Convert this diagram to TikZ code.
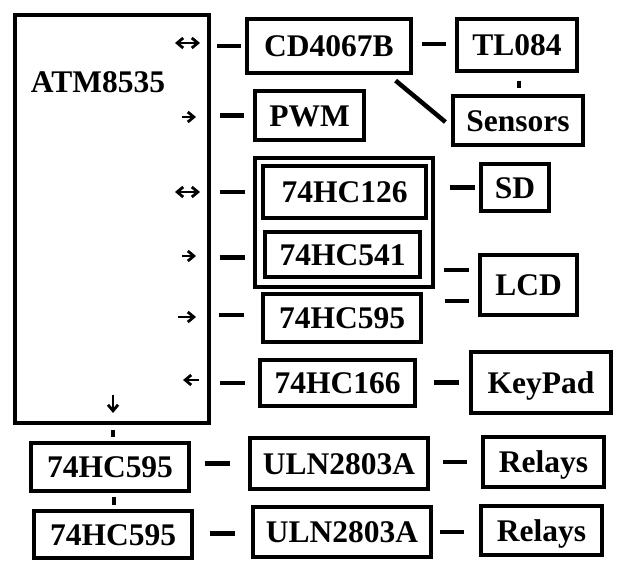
\documentclass[tikz,border=0pt]{standalone}
\usepackage{fontspec}
\setmainfont{Liberation Serif}
\usetikzlibrary{arrows.meta}
\begin{document}
\begin{tikzpicture}[x=1pt,y=-1pt,
  box/.style={draw, line width=3.2pt, inner sep=0pt, text height=21.4pt, text depth=0pt,
    font=\fontsize{31.5}{36}\selectfont\bfseries},
  seg/.style={line width=4.5pt},
  smallarr/.style={line width=2.8pt, arrows={-Straight Barb[length=6pt,width=10pt]}},
  smallarr2/.style={line width=2.8pt, arrows={Straight Barb[length=6pt,width=10pt]-Straight Barb[length=6pt,width=10pt]}}]
\fill[white] (0,0) rectangle (627,580);
\useasboundingbox (0,0) rectangle (627,580);
% main controller
\node[box, minimum width=194pt, minimum height=408pt] (atm) at (112,219) {};
\node[font=\fontsize{31.5}{36}\selectfont\bfseries, text height=21.4pt, text depth=0pt, inner sep=0pt] (atmlabel) at (98,82) {ATM8535};
% boxes
\node[box, minimum width=164pt, minimum height=54pt] (cd) at (329,46) {CD4067B};
\node[box, minimum width=120pt, minimum height=52pt] (tl) at (517,45) {TL084};
\node[box, minimum width=130pt, minimum height=49pt] (sen) at (518,120.5) {Sensors};
\node[box, minimum width=109pt, minimum height=49pt] (pwm) at (309.5,115.5) {PWM};
\node[box, minimum width=178pt, minimum height=129pt] (grp) at (344,222.5) {};
\node[box, minimum width=163pt, minimum height=52pt] (h126) at (344.5,192) {74HC126};
\node[box, minimum width=155pt, minimum height=45pt] (h541) at (342.5,254.5) {74HC541};
\node[box, minimum width=68pt, minimum height=47pt] (sd) at (515,187.5) {SD};
\node[box, minimum width=97pt, minimum height=60pt] (lcd) at (528.5,285) {LCD};
\node[box, minimum width=158pt, minimum height=48pt] (h595) at (342,318) {74HC595};
\node[box, minimum width=155pt, minimum height=46pt] (h166) at (337.5,383) {74HC166};
\node[box, minimum width=140pt, minimum height=61pt] (kp) at (541,382.5) {KeyPad};
\node[box, minimum width=158pt, minimum height=48pt] (b1) at (110,467) {74HC595};
\node[box, minimum width=158pt, minimum height=47pt] (b2) at (113,534.5) {74HC595};
\node[box, minimum width=178pt, minimum height=51pt] (u1) at (339,463.5) {ULN2803A};
\node[box, minimum width=178pt, minimum height=50pt] (u2) at (342,532) {ULN2803A};
\node[box, minimum width=121pt, minimum height=50pt] (r1) at (543.5,462) {Relays};
\node[box, minimum width=121pt, minimum height=49pt] (r2) at (541.5,530.5) {Relays};
% helper coordinates for the LCD links
\coordinate (lcdA) at ([shift={(0,-15)}]lcd.west);
\coordinate (lcdB) at ([shift={(0,16)}]lcd.west);
% short link segments
\draw[seg, shorten <=6pt, shorten >=4pt] (atm.east |- cd.west) -- (cd.west);
\draw[seg, shorten <=9pt, shorten >=9pt] (atm.east |- pwm.west) -- (pwm.west);
\draw[seg, shorten <=9pt, shorten >=8pt] (atm.east |- h126.west) -- (grp.west |- h126.west);
\draw[seg, shorten <=9pt, shorten >=8pt] ([shift={(0,3)}]atm.east |- h541.west) -- ([shift={(0,3)}]grp.west |- h541.west);
\draw[seg, shorten <=8pt, shorten >=17pt] ([shift={(0,-3)}]atm.east |- h595.west) -- ([shift={(0,-3)}]h595.west);
\draw[seg, shorten <=9pt, shorten >=13pt] (atm.east |- h166.west) -- (h166.west);
\draw[seg, shorten <=9pt, shorten >=9pt] ([shift={(0,-2)}]cd.east) -- ([shift={(0,-2)}]cd.east -| tl.west);
\draw[seg, shorten <=8pt, shorten >=6pt] ([shift={(2,0)}]tl.south) -- ([shift={(2,0)}]tl.south |- sen.north);
\draw[seg] ([shift={(-17,6)}]cd.south east) -- ([shift={(-6,1.5)}]sen.west);
\draw[seg, shorten <=15pt, shorten >=4pt] (grp.east |- sd.west) -- (sd.west);
\draw[seg, shorten <=9pt, shorten >=9pt] (grp.east |- lcdA) -- (lcdA);
\draw[seg, shorten <=22pt, shorten >=9pt] (h595.east |- lcdB) -- (lcdB);
\draw[seg, shorten <=17pt, shorten >=10pt] (h166.east |- kp.west) -- (kp.west);
\draw[seg, shorten <=5pt, shorten >=4pt] ([shift={(3,0)}]b1.north |- atm.south) -- ([shift={(3,0)}]b1.north);
\draw[seg, shorten <=4pt, shorten >=4pt] ([shift={(4,0)}]b1.south) -- ([shift={(4,0)}]b1.south |- b2.north);
\draw[seg, shorten <=14pt, shorten >=18pt] (b1.east |- u1.west) -- (u1.west);
\draw[seg, shorten <=16pt, shorten >=16pt] ([shift={(0,1.5)}]b2.east |- u2.west) -- ([shift={(0,1.5)}]u2.west);
\draw[seg, shorten <=13pt, shorten >=14pt] (u1.east |- r1.west) -- (r1.west);
\draw[seg, shorten <=7pt, shorten >=15pt] (u2.east) -- (u2.east -| r2.west);
% direction marks inside the controller
\draw[smallarr2] (175,43) -- (200,43);
\draw[smallarr] (182,117) -- (196,117);
\draw[smallarr2] (175,192) -- (200,192);
\draw[smallarr] (182,256) -- (196,256);
\draw[smallarr] (178,317) -- (196,317);
\draw[smallarr] (199,380) -- (183,380);
\draw[smallarr] (113,395) -- (113,413);
\end{tikzpicture}
\end{document}
